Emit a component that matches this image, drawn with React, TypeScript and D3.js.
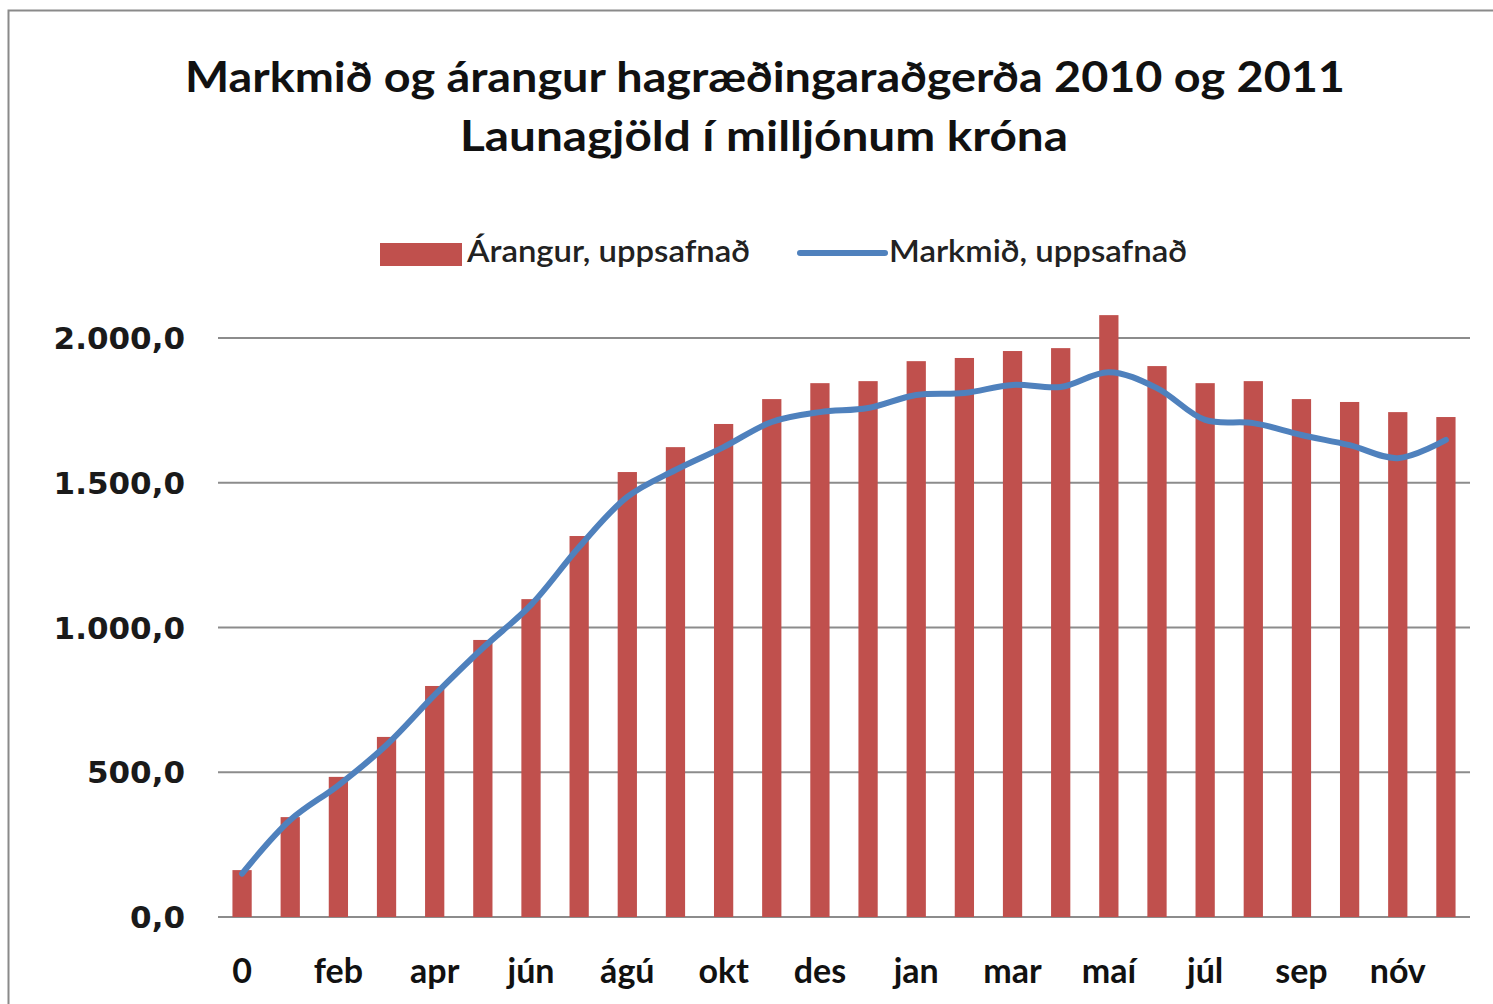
import React, { useEffect, useRef } from "react";
import * as d3 from "d3";

// x categories (every second one is labelled on the axis)
const months = [
  "0", "jan", "feb", "mar", "apr", "maí", "jún", "júl", "ágú", "sep", "okt", "nóv", "des",
  "0 ", "jan ", "feb ", "mar ", "apr ", "maí ", "jún ", "júl ", "ágú ", "sep ", "okt ", "nóv ", "des "
];
// Árangur, uppsafnað (bars)
const arangur = [
  162, 345, 484, 622, 798, 957, 1098, 1316, 1537, 1623, 1703, 1789, 1844,
  1851, 1920, 1931, 1955, 1965, 2079, 1903, 1844, 1851, 1789, 1779, 1744, 1727
];
// Markmið, uppsafnað (line)
const markmid = [
  150, 335, 455, 594, 767, 929, 1078, 1278, 1451, 1544, 1623, 1710, 1744,
  1758, 1803, 1810, 1838, 1831, 1882, 1827, 1717, 1706, 1665, 1630, 1585, 1648
];
const yTicks = [0, 500, 1000, 1500, 2000];

const W = 1493, H = 1004;
const margin = { left: 218, right: 23, top: 338, bottom: 87 };

export default function App() {
  const svgRef = useRef<SVGSVGElement>(null);

  useEffect(() => {
    const svg = d3.select(svgRef.current);
    svg.selectAll("*").remove();

    const data = months.map((m, i) => ({ m, a: arangur[i], t: markmid[i] }));

    const x = d3.scaleBand()
      .domain(months)
      .range([margin.left, W - margin.right])
      .paddingInner(0.6)
      .paddingOuter(0.3);
    const y = d3.scaleLinear()
      .domain([0, 2000])
      .range([H - margin.bottom, margin.top]);

    // outer frame
    svg.append("rect")
      .attr("x", 8.5).attr("y", 10.5)
      .attr("width", W + 20).attr("height", H + 20)
      .attr("fill", "#fff")
      .attr("stroke", "#8a8a8a")
      .attr("stroke-width", 2);

    // title
    const title = svg.append("g")
      .attr("font-family", "Lato, 'Open Sans', sans-serif")
      .attr("font-weight", "bold")
      .attr("fill", "#111")
      .attr("text-anchor", "middle");
    title.append("text")
      .attr("x", 765).attr("y", 92)
      .attr("font-size", 42)
      .attr("textLength", 1160)
      .attr("lengthAdjust", "spacingAndGlyphs")
      .text("Markmið og árangur hagræðingaraðgerða 2010 og 2011");
    title.append("text")
      .attr("x", 764).attr("y", 151)
      .attr("font-size", 42)
      .attr("textLength", 608)
      .attr("lengthAdjust", "spacingAndGlyphs")
      .text("Launagjöld í milljónum króna");

    // legend
    const legend = svg.append("g")
      .attr("font-family", "Lato, 'Open Sans', sans-serif")
      .attr("font-size", 30)
      .attr("font-weight", 600)
      .attr("fill", "#222");
    legend.append("rect")
      .attr("x", 380).attr("y", 243).attr("width", 82).attr("height", 23)
      .attr("fill", "#C0504D");
    legend.append("text")
      .attr("x", 467).attr("y", 262)
      .attr("textLength", 283).attr("lengthAdjust", "spacingAndGlyphs")
      .text("Árangur, uppsafnað");
    legend.append("line")
      .attr("x1", 800).attr("x2", 885).attr("y1", 253).attr("y2", 253)
      .attr("stroke", "#4F81BD").attr("stroke-width", 6).attr("stroke-linecap", "round");
    legend.append("text")
      .attr("x", 889).attr("y", 262)
      .attr("textLength", 298).attr("lengthAdjust", "spacingAndGlyphs")
      .text("Markmið, uppsafnað");

    // gridlines
    svg.append("g")
      .selectAll("line")
      .data(yTicks)
      .join("line")
      .attr("x1", margin.left)
      .attr("x2", W - margin.right)
      .attr("y1", d => y(d))
      .attr("y2", d => y(d))
      .attr("stroke", "#8c8c8c")
      .attr("stroke-width", 2);

    // y axis labels
    const fmt = (v: number) => d3.format(",.1f")(v).replace(/,/g, "#").replace(".", ",").replace(/#/g, ".");
    svg.append("g")
      .attr("font-family", "'DejaVu Sans', Verdana, sans-serif")
      .attr("font-size", 31)
      .attr("font-weight", "bold")
      .attr("fill", "#1a1a1a")
      .attr("text-anchor", "end")
      .selectAll("text")
      .data(yTicks)
      .join("text")
      .attr("x", 185)
      .attr("y", d => y(d) + 11)
      .text(d => fmt(d));

    // bars
    svg.append("g")
      .attr("fill", "#C0504D")
      .selectAll("rect")
      .data(data)
      .join("rect")
      .attr("x", d => x(d.m)!)
      .attr("width", x.bandwidth())
      .attr("y", d => y(d.a))
      .attr("height", d => y(0) - y(d.a));

    // target line
    const line = d3.line<{ m: string; t: number }>()
      .x(d => x(d.m)! + x.bandwidth() / 2)
      .y(d => y(d.t))
      .curve(d3.curveCatmullRom.alpha(0.5));
    svg.append("path")
      .datum(data)
      .attr("d", line)
      .attr("fill", "none")
      .attr("stroke", "#4F81BD")
      .attr("stroke-width", 6)
      .attr("stroke-linejoin", "round")
      .attr("stroke-linecap", "round");

    // x axis labels
    const xAxis = d3.axisBottom(x)
      .tickSize(0)
      .tickPadding(0)
      .tickFormat((d, i) => (i % 2 === 0 ? d.trim() : ""));
    svg.append("g")
      .attr("transform", `translate(0, ${y(0)})`)
      .call(xAxis)
      .call(g => g.select(".domain").remove())
      .call(g => g.selectAll("text")
        .attr("dy", null)
        .attr("y", 66)
        .attr("font-family", "Lato, 'Open Sans', sans-serif")
        .attr("font-size", 34)
        .attr("font-weight", "bold")
        .attr("fill", "#111"));
  }, []);

  return (
    <svg
      ref={svgRef}
      width={W}
      height={H}
      style={{ position: "absolute", left: 0, top: 0, background: "#fff" }}
    />
  );
}
